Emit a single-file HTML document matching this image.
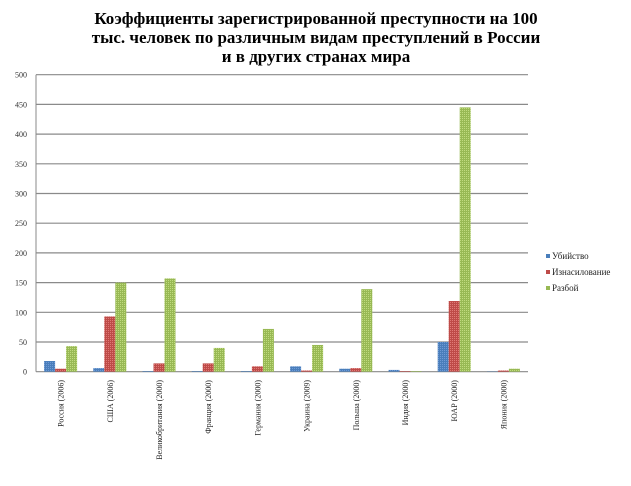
<!DOCTYPE html>
<html><head><meta charset="utf-8"><style>
body{margin:0;background:#fff;width:631px;height:481px;overflow:hidden;font-family:"Liberation Serif",serif}
</style></head><body>
<svg width="631" height="481" font-family="Liberation Serif, serif">
<defs>
<pattern id="pb" width="2" height="2" patternUnits="userSpaceOnUse"><rect width="2" height="2" fill="#4a7ebb"/><rect width="1" height="1" fill="#6f9bd6"/></pattern>
<pattern id="pr" width="2" height="2" patternUnits="userSpaceOnUse"><rect width="2" height="2" fill="#be4b48"/><rect width="1" height="1" fill="#e07a77"/></pattern>
<pattern id="pg" width="2" height="2" patternUnits="userSpaceOnUse"><rect width="2" height="2" fill="#98b954"/><rect width="1" height="1" fill="#c0db7f"/></pattern>
</defs>
<g font-weight="bold" font-size="17" text-anchor="middle" fill="#000">
<text x="316" y="24">Коэффициенты зарегистрированной преступности на 100</text>
<text x="316" y="43">тыс. человек по различным видам преступлений в России</text>
<text x="316" y="62">и в других странах мира</text>
</g>
<g id="grid"></g><g id="bars"></g><g id="xl"></g>
<g font-size="9" fill="#222">
<rect x="546" y="254" width="4" height="4" fill="#4a7ebb"/><text x="552" y="259">Убийство</text>
<rect x="546" y="270" width="4" height="4" fill="#be4b48"/><text x="552" y="275">Изнасилование</text>
<rect x="546" y="286" width="4" height="4" fill="#98b954"/><text x="552" y="291">Разбой</text>
</g>
</svg>
<script>
const categories=["Россия (2006)","США (2006)","Великобритания (2000)","Франция (2000)","Германия (2000)","Украина (2009)","Польша (2000)","Индия (2000)","ЮАР (2000)","Япония (2000)"];
const murder=[18,6,1,1,1,9,5,3,50,0.5];
const rape=[5,93,14,14,9,2,6,1,119,2];
const robbery=[43,150,157,40,72,45,139,1,445,5];
const ticks=[0,50,100,150,200,250,300,350,400,450,500];
const X0=36,X1=528,Y0=371.7,Y1=74.7,VMAX=500;
const NS="http://www.w3.org/2000/svg";
const y=v=>Y0-(v/VMAX)*(Y0-Y1);
const cw=(X1-X0)/categories.length;
const x=i=>X0+i*cw;
function mk(t,a,p){const e=document.createElementNS(NS,t);for(const k in a)e.setAttribute(k,a[k]);p.appendChild(e);return e;}
const grid=document.getElementById('grid');
ticks.forEach(t=>{
 const l=mk('line',{x1:X0,x2:X1,y1:y(t),y2:y(t),stroke:'#8a8a8a','stroke-width':1.2},grid);
 
 
 const tx=mk('text',{x:27,y:y(t)+3,'font-size':8,'text-anchor':'end',fill:'#333'},grid);
 tx.textContent=t;
 
 
});
const ax=mk('line',{x1:X0,x2:X0,y1:Y1,y2:Y0,stroke:'#8a8a8a'},grid);


const bars=document.getElementById('bars');
const series=[[murder,'url(#pb)','murder'],[rape,'url(#pr)','rape'],[robbery,'url(#pg)','robbery']];
const bw=11,off=(cw-3*bw)/2;
categories.forEach((c,i)=>{
 series.forEach((s,j)=>{
  const v=s[0][i];
  const r=mk('rect',{x:x(i)+off+j*bw,y:y(v),width:bw,height:Y0-y(v),fill:s[1]},bars);
  
  
 });
 const cx=x(i)+cw/2+3;
 const t=mk('text',{x:cx,y:380,'font-size':8,'text-anchor':'end',fill:'#222',transform:`rotate(-90 ${cx} 380)`},document.getElementById('xl'));
 t.textContent=c;
 
 
});
</script>
</body></html>
